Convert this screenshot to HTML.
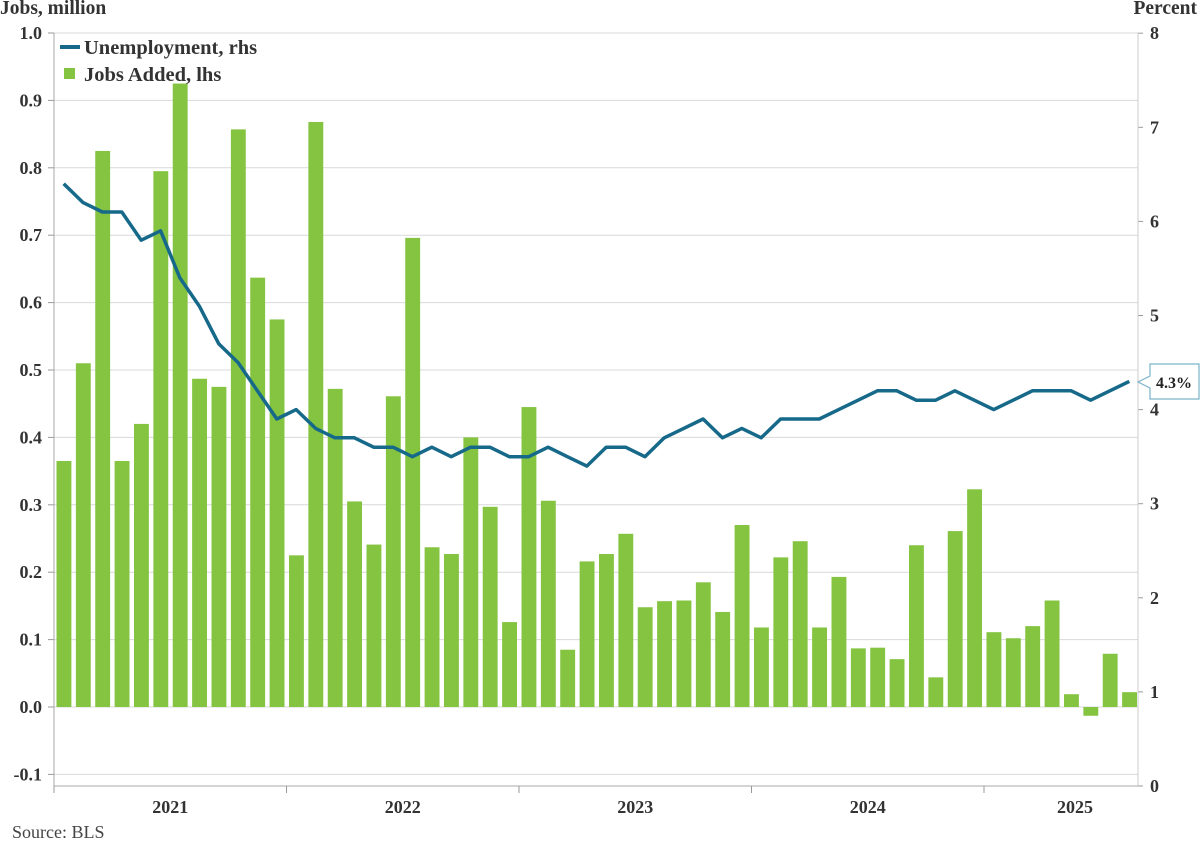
<!DOCTYPE html>
<html><head><meta charset="utf-8">
<style>
html,body{margin:0;padding:0;background:#fff;}
svg{display:block;font-family:"Liberation Serif",serif;}
.tk{font-size:18px;font-weight:bold;fill:#333;}
.tt{font-size:19.5px;font-weight:bold;fill:#333;}
.lg{font-size:20.5px;font-weight:bold;fill:#333;}
</style></head>
<body>
<svg id="chart" width="1200" height="841" viewBox="0 0 1200 841" xmlns="http://www.w3.org/2000/svg">
<g id="grid"></g>
<g id="bars"></g>
<g id="line"></g>
<g id="axes"></g>
<text x="0" y="14" class="tt">Jobs, million</text>
<text x="1197" y="14" class="tt" text-anchor="end">Percent</text>
<g>
<line x1="60" y1="47" x2="80" y2="47" stroke="#17698a" stroke-width="4"/>
<text x="84" y="54" class="lg">Unemployment, rhs</text>
<rect x="64" y="68" width="11" height="11" fill="#84c441"/>
<text x="84" y="81" class="lg">Jobs Added, lhs</text>
</g>
<g>
<path d="M1150,364 H1199 V399 H1150 V388 L1138,382 L1150,376 Z" fill="#fff" stroke="#7ab3c8" stroke-width="1.2"/>
<text x="1174" y="388" text-anchor="middle" font-size="16" font-weight="bold" fill="#222">4.3%</text>
</g>
<text x="12" y="838" font-size="18" fill="#444">Source: BLS</text>
</svg>
<script>
const jobsAdded = [0.365,0.51,0.825,0.365,0.42,0.795,0.925,0.487,0.475,0.857,0.637,0.575,
0.225,0.868,0.472,0.305,0.241,0.461,0.696,0.237,0.227,0.4,0.297,0.126,
0.445,0.306,0.085,0.216,0.227,0.257,0.148,0.157,0.158,0.185,0.141,0.27,
0.118,0.222,0.246,0.118,0.193,0.087,0.088,0.071,0.24,0.044,0.261,0.323,
0.111,0.102,0.12,0.158,0.019,-0.013,0.079,0.022];
const unemployment = [6.4,6.2,6.1,6.1,5.8,5.9,5.4,5.1,4.7,4.5,4.2,3.9,
4.0,3.8,3.7,3.7,3.6,3.6,3.5,3.6,3.5,3.6,3.6,3.5,
3.5,3.6,3.5,3.4,3.6,3.6,3.5,3.7,3.8,3.9,3.7,3.8,
3.7,3.9,3.9,3.9,4.0,4.1,4.2,4.2,4.1,4.1,4.2,4.1,
4.0,4.1,4.2,4.2,4.2,4.1,4.2,4.3];
const leftTicks = ["-0.1","0.0","0.1","0.2","0.3","0.4","0.5","0.6","0.7","0.8","0.9","1.0"];
const rightTicks = ["0","1","2","3","4","5","6","7","8"];
const yearLabels = ["2021","2022","2023","2024","2025"];

const NS="http://www.w3.org/2000/svg";
const X0=54, X1=1138, PM=(983-53)/48;
const xBand=i=>X0+PM*i;
const yL=v=>707-v*674;
const yR=v=>786-v*94.1;
function mk(tag,attrs,parent){const e=document.createElementNS(NS,tag);for(const k in attrs)e.setAttribute(k,attrs[k]);parent.appendChild(e);return e;}
const grid=document.getElementById('grid'),bars=document.getElementById('bars'),lineG=document.getElementById('line'),axes=document.getElementById('axes');

leftTicks.forEach(t=>{const y=yL(parseFloat(t));
 const g=mk('line',{x1:X0,x2:X1,y1:y,y2:y,stroke:'#d9d9d9','stroke-width':1},grid);
 
 
 mk('line',{x1:48,x2:X0,y1:y,y2:y,stroke:'#999'},axes);
 const tx=mk('text',{x:42,y:y+6,'text-anchor':'end',class:'tk'},axes);tx.textContent=t;
 
 
});
rightTicks.forEach(t=>{const y=yR(parseFloat(t));
 mk('line',{x1:X1,x2:X1+5,y1:y,y2:y,stroke:'#999'},axes);
 const tx=mk('text',{x:1150,y:y+6,class:'tk'},axes);tx.textContent=t;
 
 
});
jobsAdded.forEach((v,i)=>{const x=xBand(i)+2.5,w=PM-4.5;const y0=yL(0),y1=yL(v);
 const r=mk('rect',{x:x,y:Math.min(y0,y1),width:w,height:Math.abs(y1-y0),fill:'#84c441'},bars);
 
 
});
const pts=unemployment.map((v,i)=>(xBand(i)+PM/2).toFixed(1)+','+yR(v).toFixed(1)).join(' ');
const pl=mk('polyline',{points:pts,fill:'none',stroke:'#17698a','stroke-width':3.5,'stroke-linejoin':'round'},lineG);


mk('line',{x1:X0,x2:X0,y1:33,y2:786,stroke:'#aaa'},axes);
mk('line',{x1:X1,x2:X1,y1:33,y2:786,stroke:'#ccc'},axes);
mk('line',{x1:X0,x2:X1,y1:786,y2:786,stroke:'#aaa'},axes);
yearLabels.forEach((t,k)=>{const xs=xBand(12*k);
 mk('line',{x1:xs,x2:xs,y1:786,y2:793,stroke:'#999'},axes);
 const cx=k<4?xBand(12*k+6):(xs+X1)/2+14;
 const tx=mk('text',{x:cx,y:813,'text-anchor':'middle',class:'tk'},axes);tx.textContent=t;
 
 
});
</script>
</body></html>
